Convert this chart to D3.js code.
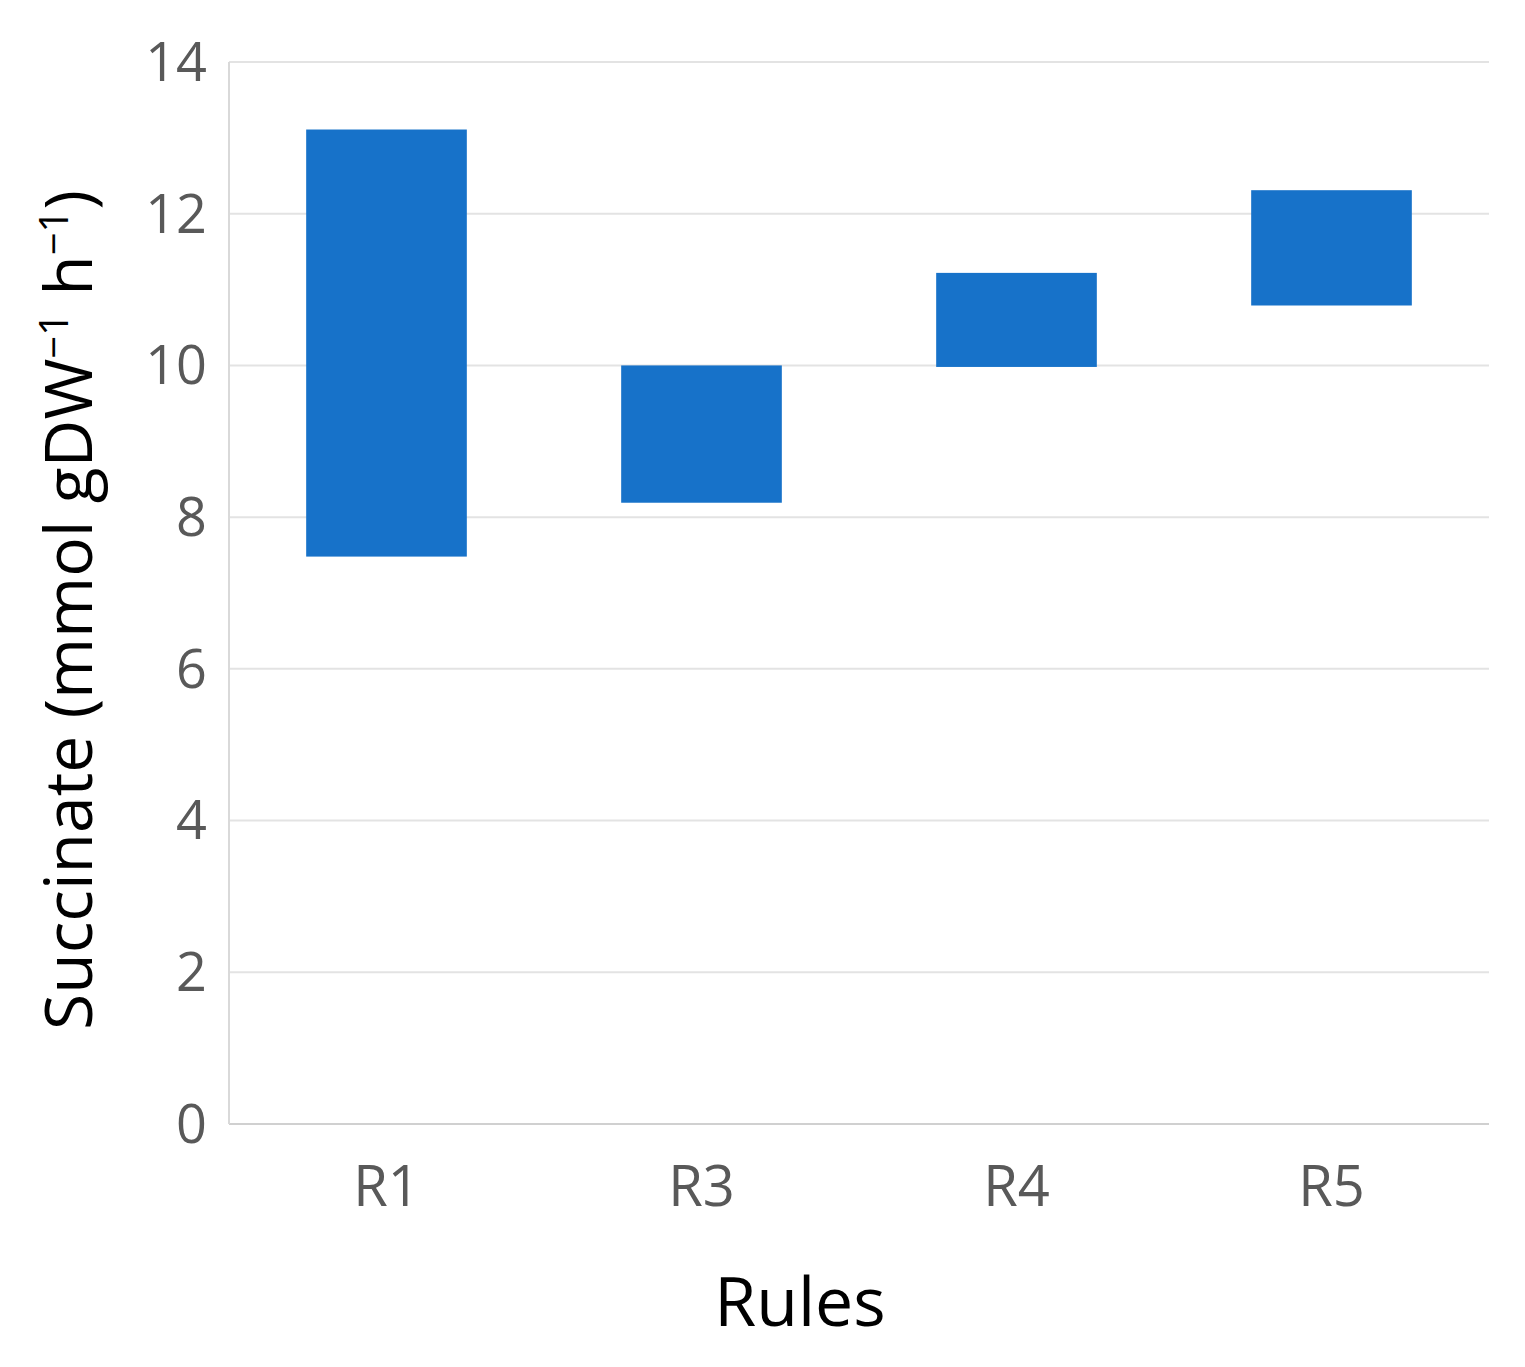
<!DOCTYPE html>
<html><head><meta charset="utf-8">
<script src="https://cdn.jsdelivr.net/npm/d3@7"></script>
<style>body{margin:0;background:#fff}text{font-family:"Open Sans",Calibri,sans-serif}</style>
</head><body><svg id="c" width="1525" height="1367"></svg>
<script>
const categories = ["R1","R3","R4","R5"];
const lows = [7.48, 8.19, 9.98, 10.79];
const highs = [13.11, 10.0, 11.22, 12.31];
const yTicks = [0,2,4,6,8,10,12,14];

const svg = d3.select("#c");
const L=229,R=1489,T=62,B=1124;
const x = d3.scaleBand().domain(categories).range([L,R]).paddingInner(0.49).paddingOuter(0.245);
const y = d3.scaleLinear().domain([0,14]).range([B,T]);

svg.append("g").selectAll("line").data(yTicks).join("line")
  .attr("x1",L).attr("x2",R).attr("y1",d=>y(d)).attr("y2",d=>y(d))
  .attr("stroke",d=>d===0?"#d0d0d0":"#e3e3e3").attr("stroke-width",2);
svg.append("line").attr("x1",L).attr("x2",L).attr("y1",T).attr("y2",B).attr("stroke","#d9d9d9").attr("stroke-width",2);

svg.append("g").selectAll("text").data(yTicks).join("text")
  .attr("x",L-22).attr("y",d=>y(d)).attr("dy","0.35em").attr("text-anchor","end")
  .attr("font-size",54).attr("fill","#595959").text(d=>d);

svg.append("g").selectAll("rect").data(categories).join("rect")
  .attr("x",d=>x(d)).attr("width",x.bandwidth())
  .attr("y",(d,i)=>y(highs[i])).attr("height",(d,i)=>y(lows[i])-y(highs[i]))
  .attr("fill","#1772c9");

svg.append("g").selectAll("text").data(categories).join("text")
  .attr("x",d=>x(d)+x.bandwidth()/2).attr("y",1206).attr("text-anchor","middle")
  .attr("font-size",56).attr("fill","#595959").text(d=>d);

svg.append("text").attr("x",800).attr("y",1326).attr("text-anchor","middle")
  .attr("font-size",68).attr("fill","#000").text("Rules");

const yl = svg.append("text").attr("transform","translate(92,610) rotate(-90)")
  .attr("text-anchor","middle").attr("font-size",66).attr("fill","#000");
yl.append("tspan").text("Succinate (mmol gDW");
yl.append("tspan").attr("font-size",40).attr("dy",-24).text("−1");
yl.append("tspan").attr("dy",24).text(" h");
yl.append("tspan").attr("font-size",40).attr("dy",-24).text("−1");
yl.append("tspan").attr("dy",24).text(")");
</script></body></html>
